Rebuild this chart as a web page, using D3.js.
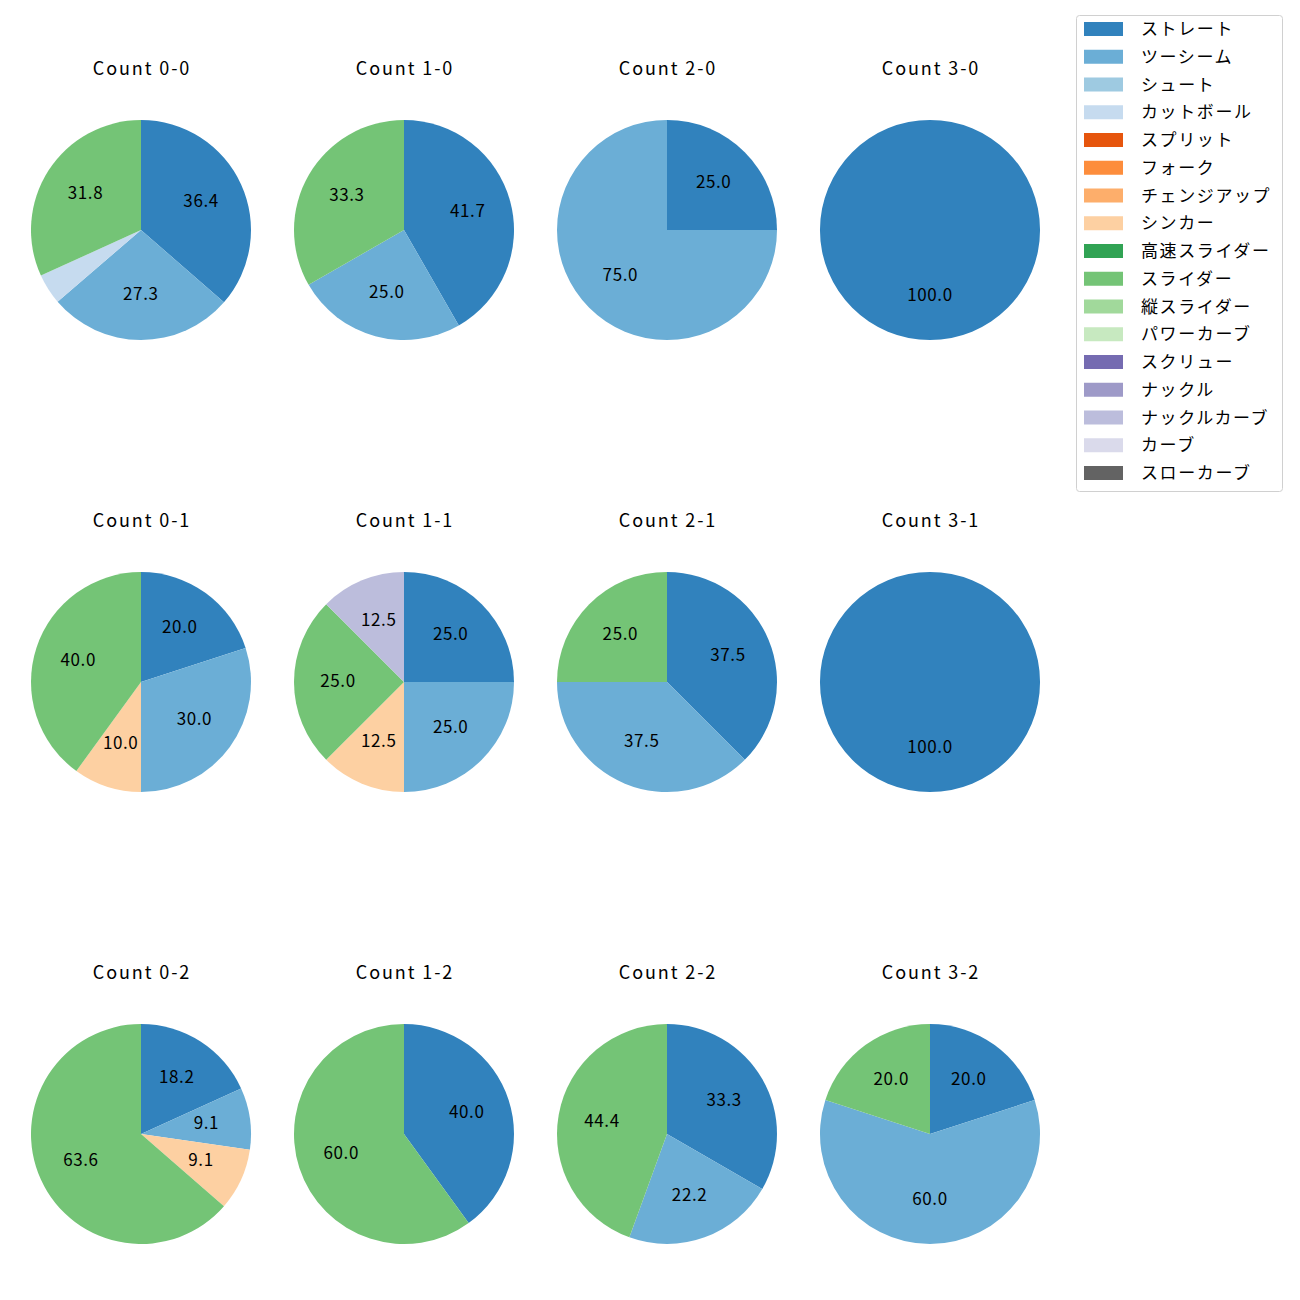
<!DOCTYPE html>
<html lang="ja">
<head>
<meta charset="UTF-8">
<title>Count pies</title>
<script src="https://d3js.org/d3.v7.min.js"></script>
<style>
    body { margin: 0; background: #fff; }
    text { font-family: "Noto Sans CJK JP", "Noto Sans", sans-serif; fill: #000; }
</style>
</head>
<body>
<div id="chart"></div>
<script>
    // pitch types and their colours (legend order)
    const pitchTypes = ["ストレート", "ツーシーム", "シュート", "カットボール", "スプリット", "フォーク",
        "チェンジアップ", "シンカー", "高速スライダー", "スライダー", "縦スライダー", "パワーカーブ",
        "スクリュー", "ナックル", "ナックルカーブ", "カーブ", "スローカーブ"];
    const pitchColors = ["#3182bd", "#6baed6", "#9ecae1", "#c6dbef", "#e6550d", "#fd8d3c",
        "#fdae6b", "#fdd0a2", "#31a354", "#74c476", "#a1d99b", "#c7e9c0",
        "#756bb1", "#9e9ac8", "#bcbddc", "#dadaeb", "#636363"];

    // ball-strike counts, row by row
    const countLabels = ["0-0", "1-0", "2-0", "3-0", "0-1", "1-1", "2-1", "3-1", "0-2", "1-2", "2-2", "3-2"];

    // share of each pitch (percent); omitted types are 0
    const share00 = {"ストレート": 36.4, "ツーシーム": 27.3, "カットボール": 4.5, "スライダー": 31.8};
    const share10 = {"ストレート": 41.7, "ツーシーム": 25.0, "スライダー": 33.3};
    const share20 = {"ストレート": 25.0, "ツーシーム": 75.0};
    const share30 = {"ストレート": 100.0};
    const share01 = {"ストレート": 20.0, "ツーシーム": 30.0, "シンカー": 10.0, "スライダー": 40.0};
    const share11 = {"ストレート": 25.0, "ツーシーム": 25.0, "シンカー": 12.5, "スライダー": 25.0, "ナックルカーブ": 12.5};
    const share21 = {"ストレート": 37.5, "ツーシーム": 37.5, "スライダー": 25.0};
    const share31 = {"ストレート": 100.0};
    const share02 = {"ストレート": 18.2, "ツーシーム": 9.1, "シンカー": 9.1, "スライダー": 63.6};
    const share12 = {"ストレート": 40.0, "スライダー": 60.0};
    const share22 = {"ストレート": 33.3, "ツーシーム": 22.2, "スライダー": 44.4};
    const share32 = {"ストレート": 20.0, "ツーシーム": 60.0, "スライダー": 20.0};
    const shares = [share00, share10, share20, share30, share01, share11, share21, share31, share02, share12, share22, share32];

    const W = 1300, H = 1300;
    const svg = d3.select("#chart").append("svg").attr("width", W).attr("height", H);

    const color = d3.scaleOrdinal().domain(pitchTypes).range(pitchColors);

    // grid positions
    const colX = d3.scalePoint().domain([0, 1, 2, 3]).range([141, 930]);
    const rowY = d3.scalePoint().domain([0, 1, 2]).range([230, 1134]);
    const R = 110;

    const pie = d3.pie().sort(null).value(d => d.v);
    const arc = d3.arc().innerRadius(0).outerRadius(R);
    const labelArc = d3.arc().innerRadius(R * 0.6).outerRadius(R * 0.6);

    countLabels.forEach((lab, i) => {
        const col = i % 4, row = Math.floor(i / 4);
        const g = svg.append("g")
            .attr("transform", `translate(${colX(col)},${rowY(row)})`);

        g.append("text")
            .attr("x", 1).attr("y", -163)
            .attr("text-anchor", "middle")
            .attr("dominant-baseline", "central")
            .style("font-size", "18px")
            .style("letter-spacing", "1.9px")
            .text("Count " + lab);

        const data = pitchTypes
            .map(p => ({p: p, v: shares[i][p] || 0}))
            .filter(d => d.v > 0);
        const arcs = pie(data);

        g.selectAll("path").data(arcs).enter().append("path")
            .attr("d", arc)
            .attr("fill", d => color(d.data.p));

        // small slices (< 5%) carry no label
        g.selectAll("text.lbl").data(arcs.filter(d => d.data.v >= 5)).enter().append("text")
            .attr("class", "lbl")
            .attr("transform", d => `translate(${labelArc.centroid(d)})`)
            .attr("dy", -3)
            .attr("text-anchor", "middle")
            .attr("dominant-baseline", "central")
            .style("font-size", "17px")
            .style("letter-spacing", "0.6px")
            .text(d => d.data.v.toFixed(1));
    });

    // legend
    const leg = svg.append("g");
    leg.append("rect")
        .attr("x", 1076.5).attr("y", 15.5)
        .attr("width", 206).attr("height", 476)
        .attr("rx", 3)
        .attr("fill", "#fff")
        .attr("stroke", "#d0d0d0");

    const legY = d3.scalePoint().domain(pitchTypes).range([29, 473]);
    const items = leg.selectAll("g.item").data(pitchTypes).enter().append("g")
        .attr("class", "item")
        .attr("transform", d => `translate(0,${legY(d)})`);
    items.append("rect")
        .attr("x", 1084).attr("y", -7)
        .attr("width", 39).attr("height", 14)
        .attr("fill", d => color(d));
    items.append("text")
        .attr("x", 1141).attr("y", -1.5)
        .attr("dominant-baseline", "central")
        .style("font-size", "17px")
        .style("letter-spacing", "1.6px")
        .text(d => d);
</script>
</body>
</html>
